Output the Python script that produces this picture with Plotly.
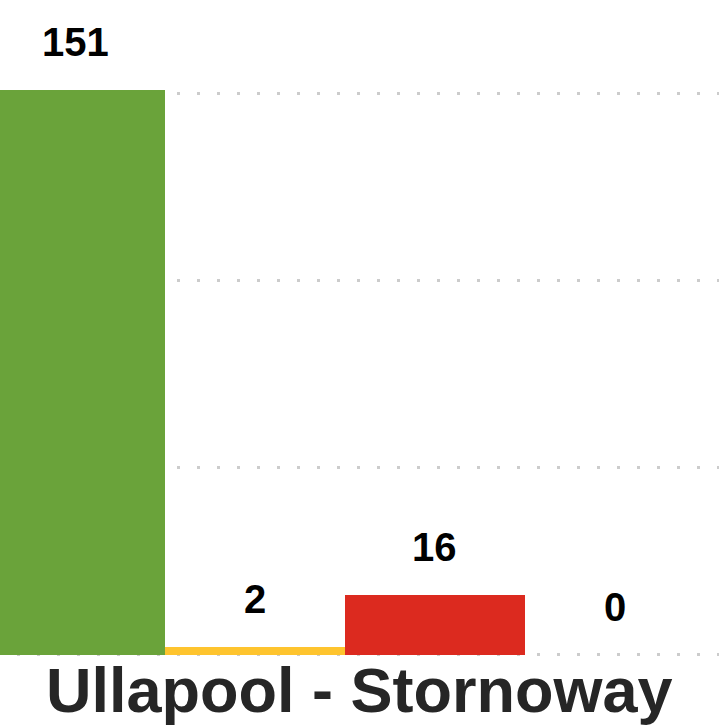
import plotly.graph_objects as go

# Route and ticket outcome counts
route = "Ullapool - Stornoway"
categories = ["On time", "Minor delay", "Major delay", "Cancelled"]
counts = [151, 2, 16, 0]
bar_colors = ["#6aa33a", "#fec42e", "#dc2a1f", "#9e9e9e"]
grid_values = [0, 50, 100, 150]

fig = go.Figure()
fig.add_trace(go.Bar(
    x=list(range(len(categories))),
    y=counts,
    marker=dict(color=bar_colors, line=dict(width=0)),
    width=1,
    hoverinfo="skip",
))

# value labels floating above each bar
for i, v in enumerate(counts):
    fig.add_annotation(
        x=i, y=v, text=f"<b>{v}</b>", showarrow=False,
        yanchor="bottom", yshift=24,
        font=dict(family="Liberation Sans, Arial, sans-serif", size=40, color="#000000"),
    )

# route name under the bars
fig.add_annotation(
    x=0.5, y=0, xref="paper", yref="paper", text=f"<b>{route}</b>",
    showarrow=False, yanchor="top", yshift=3,
    font=dict(family="Liberation Sans, Arial, sans-serif", size=63, color="#262626"),
)

fig.update_layout(
    width=719,
    height=725,
    margin=dict(l=0, r=0, t=0, b=69),
    plot_bgcolor="white",
    paper_bgcolor="white",
    showlegend=False,
    bargap=0,
    xaxis=dict(range=[-0.4167, 3.578], showgrid=False, zeroline=False,
               showticklabels=False, ticks=""),
    yaxis=dict(range=[-0.3, 175], tickvals=grid_values, showticklabels=False,
               showgrid=True, gridcolor="#cccccc", gridwidth=3,
               griddash="0px,17px,3px,0px", zeroline=False, ticks=""),
)

# drop the default body margin so the chart sits flush with the window
fig.write_html("out.html", config={"displayModeBar": False},
               post_script="document.body.style.margin='0';")
